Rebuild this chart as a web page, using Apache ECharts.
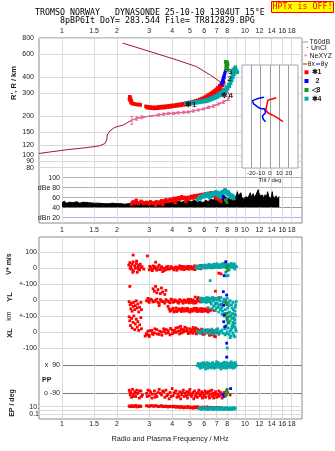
<!DOCTYPE html>
<html><head><meta charset="utf-8">
<script src="https://cdn.jsdelivr.net/npm/echarts@6/dist/echarts.min.js"></script>
<style>html,body{margin:0;padding:0;background:#fff}#c{width:335px;height:451px}</style>
</head><body><div id="c"></div><script>
// ---------- tick labels ----------
const freqTicks = [1,1.5,2,3,4,5,6,7,8,10,12,14,16,18];
const freqTicksMid = [1,1.5,2,3,4,5,6,7,8,9,10,12,14,16,18];
const freqGrid = [1,1.5,2,3,4,5,6,7,8,9,10,12,14,16,18];
const heightTicks = [80,90,100,120,150,200,300,400,600,800];
const heightLabelSlots = [74.2,80,90,100,120,150,200,300,400,600,800];
const heightTickText = {'74.2':''};
const dbTicks = [20,40,60,80,100];
const dbTickText = {20:'dBn 20',40:'40',60:'60',80:'dBe 80',100:'100'};
const vTicks = [0,100];
const ylTicks = [-100,0,100];
const ylTickText = {'-100':'+-100','0':'0','100':'+-100'};
const xlTicks = [-100,0];
const ppTicks = [-90,90];
const ppTickText = {'-90':'o -90','90':'x  90'};
const epTicks = [0.1,1,10];
const epTickText = {'0.1':'0.1','1':'','10':'10.'};
const tiltTicks = [-20,-10,0,10,20];

// ---------- height panel ----------
const profileLine = [[0.75,103],[1.06,110],[1.42,115],[1.61,118],[1.72,123],[1.757,131],[1.77,143],[1.83,154],[1.95,164],[2.17,171],[2.41,186],[2.56,192],[2.73,196],[3.37,204],[3.59,207],[3.82,210],[4.07,210],[4.33,212],[4.61,214],[4.91,215],[5.23,219],[5.57,223],[5.94,227],[6.32,234],[6.73,239],[7.17,248],[7.64,257],[8.13,269],[8.25,290],[8.13,300],[7.80,337],[7.33,368],[6.46,415],[5.46,481],[4.15,548],[2.15,732]];
const neF = [2.41,2.56,2.73,3.37,3.59,3.82,4.07,4.33,4.61,4.91,5.23,5.57,5.94,6.32,6.73,7.17,7.64,8.13];
const neH = [186,192,196,204,207,210,210,212,214,215,219,223,227,234,239,248,257,269];
const neErr = [13,6,5,4,4,4,4,4,4,4,4,4,4,5,5,5,6,6];
const traceRed = [[2.35,282],[2.37,274],[2.36,266],[2.38,258],[2.40,252],[2.44,250],[2.48,248],[2.53,247],[2.58,245],[2.63,246],[2.68,244],[2.40,262],[2.34,270],
[2.88,238],[2.92,233],[2.96,236],[3.00,231],[3.05,235],[3.10,230],[3.15,234],[3.20,229],[3.26,234],[3.32,230],[3.38,236],[3.44,231],[3.50,237],[3.56,232],[3.62,238],[3.68,233],[3.74,239],[3.80,235],[3.86,240],[3.92,236],[3.98,242],[4.05,238],[4.12,243],[4.19,239],[4.26,245],[4.33,241],[4.40,247],[4.48,242],[4.56,249],[4.64,244],[4.72,251],[4.80,246],[4.88,253],[4.96,248],[5.04,256],[5.12,250],[5.20,259],[5.28,253],[5.36,262],[5.44,256],[5.52,265],[5.60,259],[5.68,269],[5.76,262],[5.84,274],[5.92,266],[6.00,279],[6.08,270],[6.16,285],[6.24,275],[6.32,291],[6.40,281],[6.48,298],[6.56,287],[6.64,305],[6.72,294],[6.80,313],[6.88,302],[6.96,322],[7.04,311],[7.12,332],[7.20,320],[7.28,344],[7.36,331],[7.44,357],[7.52,345],[7.60,372],[7.66,360],[6.20,262],[6.60,280],[7.00,296],[7.40,318]];
const traceCyan = [[4.75,252],[4.85,249],[4.95,254],[5.05,250],[5.15,256],[5.25,252],[5.35,257],[5.45,253],[5.55,259],[5.65,255],[5.75,261],[5.85,257],[5.95,264],[6.05,259],[6.15,267],[6.25,262],[6.35,271],[6.45,266],[6.55,276],[6.65,270],[6.75,281],[6.85,275],[6.95,287],[7.05,280],[7.15,294],[7.25,287],[7.35,302],[7.45,294],[7.55,311],[7.65,302],[7.75,322],[7.85,312],[7.95,335],[8.05,325],[8.15,350],[8.22,340],[8.30,368],[8.36,358],[8.42,388],[8.48,378],[8.54,410],[8.60,400],[8.66,433],[8.72,422],[8.78,455],[8.82,445],[8.86,478],[8.88,468],[8.50,430],[8.65,460],[9.0,450],[9.1,435]];
const traceBlue = [[7.45,350],[7.5,362],[7.55,375],[7.6,388],[7.65,400],[7.7,412],[7.75,425],[7.8,438],[7.85,450],[7.6,370],[7.7,395]];
const traceGreen = [[7.85,525],[7.9,515],[7.95,505],[8.0,495],[7.9,485],[7.95,475],[8.0,465],[8.05,455],[7.9,460],[8.05,500],[8.0,520]];
const traceLabelPos = [[5.05,246],[8.0,287],[8.27,385],[8.3,436]];
const traceLabelText = ['\u27311','\u27314','2','3'];

// ---------- tilt inset ----------
const tiltRed = [[6.8,277],[2.3,271],[-2.3,265],[-3.0,251],[-3.7,236],[-4.4,223],[-2.3,212],[2.3,204],[6.8,196],[11.1,187],[13.9,181]];
const tiltBlue = [[-6.5,279],[-11.8,274],[-15.3,269],[-18.7,263],[-19.8,257],[-17.7,248],[-15.3,242],[-12.8,234],[-10.0,228],[-5.8,228],[-3.7,223],[-4.7,212],[-8.2,200],[-10.0,196],[-7.2,189],[-4.7,181]];

// ---------- amplitude panel (dB) ----------
const dbBlack = [[1.0,50],[1.03,53],[1.06,49],[1.1,51],[1.15,50],[1.2,52],[1.25,49],[1.3,51],[1.4,50],[1.5,49],[1.6,49],[1.7,48],[1.8,48],[1.9,49],[2.0,48],[2.1,48],[2.2,47],[2.3,48],[2.4,49],[2.5,48],[2.6,50],[2.7,49],[2.8,51],[2.9,50],[3.0,53],[3.1,50],[3.2,52],[3.3,49],[3.5,50],[3.7,51],[3.9,50],[4.1,52],[4.3,53],[4.5,51],[4.7,53],[4.9,54],[5.1,52],[5.3,55],[5.5,51],[5.7,53],[5.9,50],[6.1,55],[6.3,52],[6.5,58],[6.7,55],[6.9,60],[7.1,56],[7.3,62],[7.5,58],[7.7,64],[7.9,60],[8.1,62],[8.3,57],[8.5,60],[8.7,54],[8.9,58],[9.0,66],[9.1,72],[9.2,64],[9.3,68],[9.4,60],[9.5,70],[9.6,62],[9.7,65],[9.8,57],[9.9,60],[10.0,56],[10.1,62],[10.2,58],[10.3,66],[10.4,60],[10.5,63],[10.6,58],[10.7,70],[10.8,62],[10.9,66],[11.0,60],[11.1,68],[11.2,61],[11.3,64],[11.4,58],[11.5,66],[11.6,62],[11.7,70],[11.8,76],[11.9,70],[12.0,72],[12.1,64],[12.2,62],[12.3,67],[12.4,60],[12.5,65],[12.6,58],[12.8,62],[12.9,66],[13.0,58],[13.1,60],[13.2,66],[13.3,72],[13.4,68],[13.5,62],[13.6,66],[13.7,60],[13.8,64],[13.9,58],[14.0,66],[14.1,72],[14.2,64],[14.3,66],[14.4,60],[14.5,64],[14.6,58],[14.7,62],[14.8,64],[14.9,58],[15.0,62],[15.2,60],[15.4,62]];
const dbRed = [[2.4,47],[2.45,52],[2.5,49],[2.55,55],[2.6,50],[2.7,53],[2.8,48],[2.9,51],[3.0,47],[3.1,50],[3.2,48],[3.3,52],[3.4,49],[3.5,54],[3.6,51],[3.7,56],[3.8,52],[3.9,57],[4.0,54],[4.1,59],[4.2,55],[4.3,60],[4.4,57],[4.5,62],[4.6,58],[4.7,60],[4.8,56],[4.9,61],[5.0,58],[5.1,63],[5.2,59],[5.3,64],[5.4,60],[5.5,65],[5.6,61],[5.7,66],[5.8,62],[5.9,67],[6.0,63],[6.1,68],[6.2,64],[6.3,69],[6.4,65],[6.5,70],[6.6,66],[6.7,69],[6.8,63],[6.9,67],[7.0,58],[7.2,55],[7.4,52],[3.25,45],[3.55,46],[4.15,50],[4.75,52],
[2.42,50],[2.52,53],[2.62,48],[2.75,51],[2.85,50],[2.95,49],[3.05,52],[3.15,49],[3.25,51],[3.35,50],[3.45,52],[3.55,53],[3.65,54],[3.75,53],[3.85,55],[3.95,56],[4.05,57],[4.15,58],[4.25,57],[4.35,59],[4.45,60],[4.55,59],[4.65,61],[4.75,58],[4.85,60],[4.95,60],[5.05,61],[5.15,61],[5.25,62],[5.35,62],[5.45,63],[5.55,63],[5.65,64],[5.75,64],[5.85,65],[5.95,65],[6.05,66],[6.15,66],[6.25,67],[6.35,67],[6.45,68],[6.55,68],[6.65,67],[6.75,66],[6.85,65],[7.1,60],[7.3,56]];
const dbCyan = [[5.5,56],[5.6,60],[5.7,58],[5.8,63],[5.9,61],[6.0,66],[6.1,62],[6.2,68],[6.3,64],[6.4,60],[6.5,67],[6.6,63],[6.7,70],[6.8,66],[6.9,72],[7.0,68],[7.1,64],[7.2,70],[7.3,60],[7.4,66],[7.5,72],[7.6,68],[7.7,74],[7.8,76],[7.9,70],[8.0,66],[8.1,72],[8.2,68],[8.3,62],[8.4,66],[8.5,60],[8.6,64],[8.7,58],
[5.55,58],[5.65,62],[5.75,60],[5.85,64],[5.95,63],[6.05,64],[6.15,66],[6.25,65],[6.35,67],[6.45,66],[6.55,69],[6.65,68],[6.75,68],[6.85,70],[6.95,69],[7.05,71],[7.15,68],[7.25,66],[7.35,64],[7.45,69],[7.55,70],[7.65,72],[7.75,75],[7.85,73],[7.95,72],[8.05,70],[8.15,69],[8.25,66],[8.35,64],[8.45,63],[8.55,62],[8.65,60]];
const dbBlue = [[7.6,63],[7.7,60],[7.8,58]];
const dbGreen = [[7.8,55],[7.9,52],[8.0,50],[7.95,57]];

// ---------- V* (m/s) ----------
const vRed = [[2.32,20],[2.35,35],[2.38,10],[2.40,-5],[2.42,25],[2.45,40],[2.46,-15],[2.50,15],[2.52,0],[2.55,30],[2.58,-25],[2.60,10],[2.63,20],[2.66,-10],[2.70,5],[2.45,83],[2.93,77],[2.80,-5],[3.0,-10],[3.05,5],[3.1,-5],[3.15,15],[3.2,0],[3.3,-12],[3.35,8],[3.45,-5],[3.5,10],[3.6,0],[3.7,-8],[3.8,12],[3.9,-3],[4.0,5],[4.1,-10],[4.2,8],[4.3,0],[4.4,15],[4.5,-5],[4.6,5],[4.7,10],[4.8,-3],[4.9,12],[5.0,2],[5.1,8],[5.2,-5],[5.3,15],[5.4,5],[5.5,10],[5.6,0],[5.7,18],[5.8,8],[5.9,15],[6.0,3],[6.2,12],[6.4,20],[6.6,10],[6.8,25],[7.0,15],[7.2,-30],[7.3,18],[7.4,-35],[7.5,10],[3.25,38],[3.4,20],[3.55,-20],
[3.02,12],[3.12,-15],[3.22,10],[3.28,-3],[3.42,-8],[3.52,3],[3.62,-15],[3.72,8],[3.82,-5],[3.95,10],[4.05,-2],[4.15,3],[4.25,-12],[4.35,6],[4.45,-3],[4.55,12],[4.65,-8],[4.75,3],[4.85,10],[4.95,-6],[5.05,10],[5.15,-2],[5.25,6],[5.35,-8],[5.45,14],[5.55,3],[5.65,9],[5.75,-3],[5.85,12],[5.95,6],[6.1,10],[6.3,4],[6.5,15],[6.7,5],[6.9,12],[7.1,8],[2.36,0],[2.44,-25],[2.56,45],[2.62,-5],[2.68,25],[2.74,10]];
const vCyan = [[5.4,2],[5.5,8],[5.6,0],[5.7,10],[5.8,5],[5.9,12],[6.0,4],[6.1,15],[6.2,8],[6.3,18],[6.4,5],[6.5,12],[6.6,20],[6.7,8],[6.8,15],[6.9,25],[7.0,10],[7.1,18],[7.2,5],[7.3,22],[7.4,12],[7.5,28],[7.6,15],[7.7,20],[7.8,10],[7.9,25],[8.0,5],[8.1,18],[8.2,-10],[8.3,22],[8.4,8],[8.5,15],[8.6,25],[8.7,10],[8.8,-5],[8.1,-45],[8.4,30],[7.85,-25],[6.46,-77],[7.95,-48],
[5.45,12],[5.55,4],[5.65,15],[5.75,2],[5.85,18],[5.95,8],[6.05,20],[6.15,2],[6.25,12],[6.35,25],[6.45,10],[6.55,2],[6.65,14],[6.75,22],[6.85,5],[6.95,15],[7.05,28],[7.15,8],[7.25,15],[7.35,5],[7.45,20],[7.55,10],[7.65,30],[7.75,8],[7.85,18],[7.95,12],[8.05,25],[8.15,5],[8.25,15],[8.35,10],[8.45,20],[8.55,5],[8.65,12],[8.75,28],[8.85,15],[9.0,10]];
const vBlue = [[7.86,41],[7.7,-46]];
const vGreen = [[8.0,-15],[8.05,15],[7.95,5]];

// ---------- YL / XL (km) ----------
const ylRed = [[2.33,-10],[2.36,-30],[2.38,-55],[2.40,-20],[2.42,-70],[2.45,-40],[2.47,-15],[2.50,-60],[2.52,-35],[2.55,-5],[2.58,-50],[2.60,-25],[2.63,-75],[2.66,-45],[2.70,-15],[2.72,-60],
[3.15,70],[3.2,55],[3.25,85],[3.3,45],[3.35,65],[3.45,40],[3.5,75],[3.55,50],[3.65,35],[3.7,60],[2.35,85],
[2.9,-5],[2.95,10],[3.0,-15],[3.1,0],[3.2,-10],[3.3,5],[3.4,-20],[3.5,-5],[3.6,-12],[3.7,2],[3.8,-8],[3.9,-18],[4.0,0],[4.1,-10],[4.2,-5],[4.3,-15],[4.4,2],[4.5,-8],[4.6,-20],[4.7,-3],[4.8,-12],[4.9,5],[5.0,-5],[5.1,-15],[5.2,0],[5.3,-8],[5.4,-18],[5.5,2],[5.6,-5],[5.7,-12],[5.8,8],[6.0,-3],[6.2,10],[6.4,-5],[6.6,12],[5.35,18],[5.55,15],
[3.85,-55],[3.9,-70],[4.0,-60],[4.1,-75],[4.2,-50],[4.3,-65],[4.4,-58],[4.5,-72],[4.6,-62],[4.7,-55],[4.8,-68],[4.9,-60],[5.0,-75],[5.1,-58],[5.2,-66],[5.3,-52],[5.4,-70],[5.5,-60],[5.6,-65],[5.7,-55],[5.8,-72],[5.9,-62],[6.0,-58],[6.1,-68],[6.2,-60],[6.3,-75],[6.5,-65],
[3.8,-40],[3.4,-35],[6.9,55],[7.2,15],[7.4,-30],
[2.98,-8],[3.05,5],[3.15,-12],[3.25,-2],[3.35,-15],[3.45,3],[3.55,-10],[3.65,-20],[3.75,-5],[3.85,-12],[3.95,5],[4.05,-15],[4.15,0],[4.25,-8],[4.35,-20],[4.45,-3],[4.55,-12],[4.65,0],[4.75,-15],[4.85,-5],[4.95,-18],[5.05,3],[5.15,-8],[5.25,-20],[5.45,-8],[5.65,5],[5.75,-3],[5.9,-10],[6.1,5],[6.3,-8],
[3.95,-65],[4.05,-52],[4.15,-68],[4.25,-72],[4.35,-55],[4.45,-64],[4.55,-52],[4.65,-70],[4.75,-64],[4.85,-52],[4.95,-70],[5.05,-62],[5.15,-70],[5.25,-56],[5.35,-62],[5.45,-52],[5.55,-72],[5.65,-58],[5.75,-66],[5.85,-54],[5.95,-70],[6.05,-64],[6.15,-55],[6.25,-70],[6.4,-62],[6.6,-58],[6.8,-66]];
const ylCyan = [[5.7,5],[5.8,-5],[5.9,10],[6.0,-10],[6.1,2],[6.2,15],[6.3,-8],[6.4,5],[6.5,-15],[6.6,8],[6.7,-5],[6.8,12],[6.9,-20],[7.0,0],[7.1,10],[7.2,-30],[7.3,-5],[7.4,15],[7.5,-45],[7.6,-10],[7.7,5],[7.8,-60],[7.9,-20],[8.0,10],[8.1,-80],[8.2,-35],[8.3,-5],[8.4,-95],[8.5,-50],[8.6,-15],[8.7,-110],[8.8,-70],[8.9,-30],[6.6,-55],[6.9,-65],[7.2,-75],[7.5,-90],[7.7,-100],[8.0,-120],[8.3,-130],[8.6,-140],[8.8,-125],[7.0,-50],[7.4,-60],[7.9,-85],[8.2,-105],[8.5,-115],[8.75,-90],[6.3,-48],[6.75,-40],[8.1,-140],[8.9,-95],
[5.75,12],[5.85,-12],[5.95,0],[6.05,8],[6.15,-15],[6.25,5],[6.35,12],[6.45,-5],[6.55,-25],[6.65,15],[6.75,0],[6.85,-30],[6.95,8],[7.05,-20],[7.15,-45],[7.25,5],[7.35,-55],[7.45,-25],[7.55,-70],[7.65,-35],[7.75,-85],[7.85,-5],[7.95,-110],[8.05,-50],[8.15,-15],[8.25,-75],[8.35,-100],[8.45,-30],[8.55,-85],[8.65,-60],[8.75,-120],[8.85,-45],[8.95,-10],[8.8,-145]];
const ylBlue = [[7.62,52],[7.95,31],[7.66,-31]];
const ylGreen = [[7.85,-12],[7.95,-28]];
const xlRed = [[2.33,95],[2.35,70],[2.37,40],[2.40,85],[2.42,25],[2.45,60],[2.47,100],[2.50,15],[2.52,50],[2.55,80],[2.58,30],[2.60,65],[2.63,10],[2.66,45],[2.70,90],[2.72,20],
[2.9,-10],[2.95,5],[3.0,-20],[3.1,10],[3.2,-5],[3.3,15],[3.4,-15],[3.5,0],[3.6,20],[3.7,-8],[3.8,8],[3.9,-18],[4.0,12],[4.1,-3],[4.2,25],[4.3,5],[4.4,-12],[4.5,18],[4.6,0],[4.7,30],[4.8,8],[4.9,-10],[5.0,20],[5.1,3],[5.2,-8],[5.3,15],[5.4,25],[5.5,-5],[5.6,10],[5.7,0],[5.8,18],[5.9,-15],[6.0,5],[6.1,12],[6.2,-3],[6.3,8],[6.4,-20],[6.5,10],[6.6,-10],[6.7,2],[6.8,-25],[7.0,-5],[4.45,35],[3.15,-15],[2.85,-25],[3.0,-28],[6.9,-30],
[2.92,-18],[3.02,8],[3.12,-8],[3.22,20],[3.32,-12],[3.42,5],[3.52,-20],[3.62,3],[3.72,15],[3.82,-5],[3.92,22],[4.02,-10],[4.12,10],[4.22,-2],[4.32,28],[4.42,8],[4.52,-5],[4.62,15],[4.72,5],[4.82,22],[4.92,2],[5.02,-5],[5.12,14],[5.22,28],[5.32,2],[5.42,-12],[5.52,16],[5.62,-2],[5.72,10],[5.82,-8],[5.92,5],[6.02,-12],[6.15,0],[6.35,-6],[6.55,-18],[6.75,-8]];
const xlCyan = [[5.5,5],[5.7,-8],[5.9,10],[6.1,-5],[6.3,15],[6.5,0],[6.7,-12],[6.9,8],[7.1,20],[7.3,-5],[7.5,12],[7.7,30],[7.9,-10],[8.1,25],[8.3,5],[8.5,40],[8.7,-20],[8.9,15],[6.0,12],[6.6,18],[7.2,2],[7.8,-18],[8.4,-25],[8.8,30],[8.2,60],[8.6,45],[8.0,-100],
[5.6,0],[5.8,8],[6.0,-5],[6.2,5],[6.4,-10],[6.7,10],[6.9,-5],[7.0,15],[7.2,-15],[7.4,5],[7.6,-8],[7.8,20],[8.0,0],[8.2,-15],[8.4,15],[8.6,-5],[8.8,-30],[8.95,5],[8.5,25],[8.7,35],[8.3,-35],[7.9,40]];
const xlBlue = [[7.73,106],[7.66,64],[7.8,33],[7.95,-70]];
const xlGreen = [[7.95,115],[8.05,95],[8.0,75],[8.1,55]];

// ---------- PP / EP (deg) ----------
const ppRed = [[2.33,-70],[2.36,-100],[2.38,-85],[2.40,-115],[2.43,-65],[2.46,-95],[2.5,-80],[2.53,-110],[2.56,-70],[2.6,-90],[2.65,-120],[2.7,-75],[2.75,-100],[2.9,-90],[2.95,-70],[3.0,-105],[3.05,-85],[3.1,-120],[3.2,-75],[3.25,-95],[3.3,-110],[3.4,-65],[3.45,-90],[3.5,-100],[3.6,-80],[3.65,-115],[3.7,-70],[3.8,-95],[3.85,-125],[3.9,-85],[4.0,-60],[4.05,-105],[4.1,-90],[4.2,-75],[4.25,-115],[4.3,-95],[4.4,-80],[4.45,-125],[4.5,-100],[4.6,-70],[4.65,-110],[4.7,-90],[4.8,-80],[4.85,-120],[4.9,-100],[5.0,-65],[5.05,-95],[5.1,-110],[5.2,-85],[5.25,-125],[5.3,-75],[5.4,-100],[5.45,-90],[5.5,-115],[5.6,-70],[5.65,-95],[5.7,-105],[5.8,-80],[5.85,-120],[5.9,-90],[6.0,-100],[6.05,-75],[6.1,-115],[6.2,-90],[6.3,-80],[6.35,-105],[6.4,-120],[6.5,-95],[6.6,-70],[6.65,-110],[6.7,-90],[6.8,-100],[6.9,-80],[7.0,-115],[7.1,-95],[7.2,-75],[7.3,-105],[7.4,-90],[7.5,-120],[7.6,-100],[7.7,-85],[8.3,-100],
[2.35,-80],[2.45,-110],[2.55,-90],[2.65,-75],[2.72,-110],[2.92,-110],[3.02,-75],[3.12,-95],[3.22,-115],[3.35,-85],[3.55,-75],[3.75,-105],[3.95,-110],[4.15,-80],[4.35,-110],[4.55,-85],[4.75,-105],[4.95,-80],[5.15,-95],[5.35,-110],[5.55,-85],[5.75,-95],[5.95,-110],[6.15,-85],[6.45,-75],[6.75,-120],[6.95,-95],[7.15,-110],[7.35,-85],[7.55,-95]];
const ppCyan = [[5.5,85],[5.6,95],[5.7,70],[5.8,100],[5.9,80],[6.0,90],[6.1,65],[6.2,105],[6.3,85],[6.4,75],[6.5,95],[6.6,80],[6.7,100],[6.8,70],[6.9,90],[7.0,110],[7.1,85],[7.2,75],[7.3,95],[7.4,65],[7.5,100],[7.6,80],[7.7,108],[7.8,90],[7.9,70],[8.0,100],[8.1,85],[8.2,95],[8.3,75],[8.4,110],[8.5,88],[8.6,70],[8.7,98],[8.8,80],[8.9,92],
[5.55,100],[5.65,80],[5.75,95],[5.85,75],[5.95,105],[6.05,80],[6.15,95],[6.25,70],[6.35,100],[6.45,90],[6.55,72],[6.65,105],[6.75,85],[6.85,95],[6.95,75],[7.05,95],[7.15,105],[7.25,90],[7.35,78],[7.45,98],[7.55,88],[7.65,72],[7.75,95],[7.85,80],[7.95,105],[8.05,75],[8.15,100],[8.25,80],[8.35,92],[8.45,78],[8.55,102],[8.65,90],[8.75,75],[8.85,105],[8.95,85]];
const ppBlue = [[7.6,-100],[7.7,-110],[8.35,-60],[7.95,140]];
const ppGreen = [[7.9,-75],[7.95,-95],[8.0,-65],[8.05,-85],[7.85,-105]];
const epRed = [[2.33,15],[2.38,10],[2.42,18],[2.47,12],[2.52,20],[2.57,9],[2.62,14],[2.7,11],[2.9,18],[3.0,12],[3.1,20],[3.2,14],[3.3,16],[3.4,11],[3.5,18],[3.6,10],[3.7,15],[3.8,8],[3.9,13],[4.0,9],[4.1,14],[4.2,7],[4.3,12],[4.4,6],[4.5,10],[4.6,5],[4.7,9],[4.8,6],[4.9,11],[5.0,5],[5.1,8],[5.2,4],[5.3,9],[5.4,6],[5.5,10],[5.6,5],[5.7,7],[5.8,4],[5.9,8],[6.0,5],[6.2,9],[6.4,5],[6.6,7],[6.8,4],[7.0,6],[7.2,5],
[2.35,12],[2.4,16],[2.45,11],[2.5,14],[2.55,17],[2.6,10],[2.65,13],[2.68,16],[2.95,15],[3.05,17],[3.15,13],[3.25,18],[3.35,12],[3.45,14],[3.55,13],[3.65,12],[3.75,11],[3.85,12],[3.95,10],[4.05,11],[4.15,9],[4.25,10],[4.35,8],[4.45,9],[4.55,8],[4.65,7],[4.75,7],[4.85,8],[4.95,7],[5.05,6],[5.15,6],[5.25,7],[5.35,5],[5.45,7],[5.55,6],[5.65,6],[5.75,5],[5.85,6],[5.95,5],[6.1,6],[6.3,6],[6.5,6],[6.7,5],[6.9,5],[7.1,5],[7.3,5],[7.4,4]];
const epCyan = [[5.6,3],[5.7,5],[5.8,2],[5.9,4],[6.0,2.5],[6.1,5],[6.2,3],[6.3,1.8],[6.4,4],[6.5,2.5],[6.6,5],[6.7,3],[6.8,2],[6.9,4],[7.0,3],[7.1,5],[7.2,2],[7.3,4],[7.4,2.5],[7.5,5],[7.6,3],[7.7,1.8],[7.8,4],[7.9,2.5],[8.0,5],[8.1,3],[8.2,2],[8.3,4.5],[8.4,3],[8.5,2],[8.6,4],[8.7,3],[8.8,5],
[5.65,4],[5.75,3],[5.85,5],[5.95,3],[6.05,4],[6.15,2.2],[6.25,4],[6.35,3],[6.45,5],[6.55,3.5],[6.65,2],[6.75,4],[6.85,3],[6.95,5],[7.05,2],[7.15,3.5],[7.25,4.5],[7.35,3],[7.45,4],[7.55,2],[7.65,4],[7.75,3],[7.85,5],[7.95,3],[8.05,2.5],[8.15,4],[8.25,3],[8.35,2.2],[8.45,4],[8.55,3],[8.65,5],[8.75,2.5],[8.85,3.5]];

// ---------- styles ----------
const FONT = '"Liberation Sans", Arial, sans-serif';
const MONO = '"DejaVu Sans Mono", "Liberation Mono", monospace';
const C = {red:'#ff0000', blue:'#0000ff', green:'#1f8f1f', cyan:'#00a8a8', prof:'#a3143f', pink:'#e8689a', grid:'#dadada', frame:'#8a8a8a', txt:'#1a1a1a'};
const fmt = v => String(+(+v).toPrecision(3));
const lab = {fontSize:7, color:C.txt, fontFamily:FONT, showMinLabel:true, showMaxLabel:true, hideOverlap:false};

function hx(gi, min, extra) {
  return Object.assign({type:'log', logBase:10, gridIndex:gi, min:min, max:20.5,
    axisLine:{show:false}, axisTick:{show:false}, axisLabel:{show:false}, splitLine:{show:false}}, extra||{});
}
function vy(gi, type, min, max, ticks, textMap, margin, lineColor, labelSlots) {
  return {type:type, gridIndex:gi, min:min, max:max, axisLine:{show:false},
    axisTick:{show:false, customValues:ticks},
    axisLabel:{show:true, customValues:labelSlots||ticks, margin:margin, formatter:v => textMap ? (textMap[fmt(v)] !== undefined ? textMap[fmt(v)] : fmt(v)) : fmt(v), ...lab},
    splitLine:{show:true, lineStyle:{color:lineColor||C.grid, width:1}}};
}
const hideY = gi => ({type:'value', gridIndex:gi, min:0, max:1, show:false});

const grids = [
  {left:39, top:38, width:263, height:185, show:true, borderColor:C.frame, borderWidth:1, backgroundColor:'#fff'},
  {left:39, top:38, width:263, height:134},
  {left:62, top:172, width:240, height:51},
  {left:242, top:65, width:56, height:103, show:true, borderColor:'#a4a4bc', borderWidth:1, backgroundColor:'#fff', z:10},
  {left:39, top:237, width:263, height:182, show:true, borderColor:C.frame, borderWidth:1, backgroundColor:'#fff'},
  {left:39, top:237, width:263, height:48},
  {left:39, top:276, width:263, height:48},
  {left:39, top:308, width:263, height:51},
  {left:62, top:350.85, width:240, height:49.55},
  {left:39, top:400.24, width:263, height:18.96}
];

const xAxes = [
  hx(0, 0.75, {position:'top', axisTick:{show:false, customValues:freqGrid}, axisLabel:{show:true, customValues:freqTicks, margin:3, formatter:fmt, ...lab}, splitLine:{show:true, lineStyle:{color:C.grid}}}),
  hx(0, 0.75, {position:'bottom', axisLabel:{show:true, customValues:freqTicksMid, margin:4, formatter:fmt, ...lab}}),
  hx(1, 0.75), hx(2, 1.0),
  {type:'value', gridIndex:3, min:-30, max:30, z:11, axisLine:{show:false}, axisTick:{show:false, customValues:tiltTicks},
    axisLabel:{show:true, customValues:tiltTicks, margin:2, fontSize:6, color:C.txt, fontFamily:FONT, showMinLabel:true, showMaxLabel:true}, splitLine:{show:true, lineStyle:{color:'#9c9c9c'}},
    name:'Tilt / deg', nameLocation:'middle', nameGap:9, nameTextStyle:{fontSize:6, color:C.txt, fontFamily:FONT}},
  hx(4, 0.75, {position:'bottom', axisTick:{show:false, customValues:freqGrid}, axisLabel:{show:true, customValues:freqTicks, margin:2, formatter:fmt, ...lab}, splitLine:{show:true, lineStyle:{color:C.grid}}}),
  hx(5, 0.75), hx(6, 0.75), hx(7, 0.75), hx(8, 1.0), hx(9, 0.75)
];
const yAxes = [
  hideY(0),
  vy(1, 'log', 74.1, 801, heightTicks, heightTickText, 5, null, heightLabelSlots),
  vy(2, 'value', 9.4, 111.4, dbTicks, dbTickText, 2, ['#b4b4e4','#9a9a9a','#b4b4b4','#b4b4b4','#b4b4b4']),
  {type:'log', gridIndex:3, min:79.6, max:495, show:false},
  hideY(4),
  vy(5, 'value', -104.4, 195.6, vTicks, null, 2),
  vy(6, 'value', -150, 150, ylTicks, ylTickText, 2),
  vy(7, 'value', -168.75, 150, xlTicks, null, 2),
  vy(8, 'value', -135, 180, ppTicks, ppTickText, 2, '#7c7c7c'),
  vy(9, 'log', 0.005, 500, epTicks, epTickText, 0)
];

function sc(xi, yi, data, color, size, z) {
  return {type:'scatter', xAxisIndex:xi, yAxisIndex:yi, data:data, symbol:'rect', symbolSize:size||2.8,
    itemStyle:{color:color, opacity:1}, silent:true, animation:false, z:z||3};
}

const series = [
  {type:'line', xAxisIndex:2, yAxisIndex:1, data:profileLine, symbol:'none', lineStyle:{color:C.prof, width:1}, silent:true, animation:false, z:2},
  {type:'line', xAxisIndex:2, yAxisIndex:1, data:neF.map((f,i)=>[f,neH[i]]), symbol:'none', lineStyle:{color:C.pink, width:1}, silent:true, animation:false, z:4},
  {type:'custom', xAxisIndex:2, yAxisIndex:1, silent:true, animation:false, z:4,
    data:neF.map((f,i)=>[f, neH[i]-neErr[i], neH[i]+neErr[i]]), encode:{x:0, y:[1,2]},
    renderItem:(params, api) => {
      const a = api.coord([api.value(0), api.value(1)]), b = api.coord([api.value(0), api.value(2)]);
      const st = {stroke:C.pink, lineWidth:1};
      return {type:'group', children:[
        {type:'line', shape:{x1:a[0], y1:a[1], x2:b[0], y2:b[1]}, style:st},
        {type:'line', shape:{x1:a[0]-1.5, y1:a[1], x2:a[0]+1.5, y2:a[1]}, style:st},
        {type:'line', shape:{x1:b[0]-1.5, y1:b[1], x2:b[0]+1.5, y2:b[1]}, style:st}]};
    }},
  sc(2,1,traceRed,C.red,3.5), sc(2,1,traceCyan,C.cyan,3.5), sc(2,1,traceBlue,C.blue,3), sc(2,1,traceGreen,C.green,3.5),
  {type:'scatter', xAxisIndex:2, yAxisIndex:1, symbolSize:1, itemStyle:{color:'rgba(0,0,0,0)'}, silent:true, animation:false, z:6,
    data:traceLabelPos.map((p,i)=>({value:p, label:{formatter:traceLabelText[i]}})),
    label:{show:true, position:'inside', color:'#000', fontSize:8, fontWeight:'bold', fontFamily:FONT}},
  {type:'line', xAxisIndex:4, yAxisIndex:3, data:tiltRed, symbol:'none', lineStyle:{color:C.red, width:1.5}, silent:true, animation:false, z:12},
  {type:'line', xAxisIndex:4, yAxisIndex:3, data:tiltBlue, symbol:'none', lineStyle:{color:C.blue, width:1.5}, silent:true, animation:false, z:12},
  {type:'line', xAxisIndex:3, yAxisIndex:2, data:dbBlack, symbol:'none', lineStyle:{color:'#000', width:1}, areaStyle:{color:'#000', opacity:1, origin:41}, silent:true, animation:false, z:2},
  sc(3,2,dbRed,C.red,3.2), sc(3,2,dbCyan,C.cyan,3.2), sc(3,2,dbBlue,C.blue,2.5), sc(3,2,dbGreen,C.green,2.5),
  sc(6,5,vRed,C.red), sc(6,5,vCyan,C.cyan), sc(6,5,vBlue,C.blue), sc(6,5,vGreen,C.green),
  sc(7,6,ylRed,C.red), sc(7,6,ylCyan,C.cyan), sc(7,6,ylBlue,C.blue), sc(7,6,ylGreen,C.green),
  sc(8,7,xlRed,C.red), sc(8,7,xlCyan,C.cyan), sc(8,7,xlBlue,C.blue), sc(8,7,xlGreen,C.green),
  sc(9,8,ppRed,C.red), sc(9,8,ppCyan,C.cyan), sc(9,8,ppBlue,C.blue), sc(9,8,ppGreen,C.green),
  sc(10,9,epRed,C.red), sc(10,9,epCyan,C.cyan)
];

function txt(x, y, s, o) {
  return Object.assign({type:'text', x:x, y:y, silent:true, z:20,
    style:Object.assign({text:s, fill:C.txt, font:'7px '+FONT, textAlign:'left', textVerticalAlign:'middle'}, (o&&o.style)||{})},
    o ? {rotation:o.rotation||0} : {});
}
function sq(x, y, color) { return {type:'rect', shape:{x:x-2, y:y-2, width:4, height:4}, style:{fill:color}, silent:true, z:20}; }
function seg(x1, y1, x2, y2, color) { return {type:'line', shape:{x1:x1, y1:y1, x2:x2, y2:y2}, style:{stroke:color, lineWidth:1}, silent:true, z:20}; }

const graphic = [
  txt(35, 12.5, 'TROMSO NORWAY   DYNASONDE 25-10-10 1304UT 15\u00b0E', {style:{font:'8.3px '+MONO, fill:'#000'}}),
  txt(60, 20.5, '8pBP6It DoY= 283.544 File= TR812829.BPG', {style:{font:'8.3px '+MONO, fill:'#000'}}),
  {type:'rect', shape:{x:271.5, y:1.5, width:62, height:11}, style:{fill:'#ffff00', stroke:'#ff0000', lineWidth:1}, silent:true, z:19},
  txt(302.5, 7.3, 'HPTx is OFF!', {style:{font:'8.3px '+MONO, fill:'#ff0000', textAlign:'center'}}),
  seg(303, 42, 308, 42, '#999'), txt(309.5, 42, 'T60dB'),
  txt(306, 48, '\u00b7', {style:{fill:'#000'}}), txt(311, 48.5, 'UnCl'),
  txt(305.5, 55.7, '+', {style:{fill:C.pink, textAlign:'center'}}), txt(309.5, 55.7, 'NeXYZ'),
  seg(303, 64, 307, 64, C.red), txt(307.5, 64, '\u03b8x'), seg(316, 64, 320, 64, C.blue), txt(320.5, 64, '\u03b8y'),
  sq(306.5, 72.3, C.red), txt(311.5, 72.3, '\u27311', {style:{font:'bold 7px '+FONT}}),
  sq(306.5, 81, C.blue), txt(315.5, 81, '2', {style:{font:'bold 7px '+FONT}}),
  sq(306.5, 90, C.green), txt(311.5, 90, '\u25c13', {style:{font:'bold 7px '+FONT}}),
  sq(306.5, 98.7, C.cyan), txt(311.5, 98.7, '\u27314', {style:{font:'bold 7px '+FONT}}),
  txt(13.5, 83, "R', R / km", {rotation:Math.PI/2, style:{font:'bold 7.5px '+FONT, textAlign:'center'}}),
  txt(9.5, 264, 'V* m/s', {rotation:Math.PI/2, style:{font:'bold 7px '+FONT, textAlign:'center'}}),
  txt(9.5, 297, 'YL', {rotation:Math.PI/2, style:{font:'bold 7.5px '+FONT, textAlign:'center'}}),
  txt(9.5, 316, 'km', {rotation:Math.PI/2, style:{font:'7px '+FONT, textAlign:'center'}}),
  txt(9.5, 333, 'XL', {rotation:Math.PI/2, style:{font:'bold 7.5px '+FONT, textAlign:'center'}}),
  txt(42, 380, 'PP', {style:{font:'bold 7px '+FONT}}),
  txt(12.5, 403, 'EP / deg', {rotation:Math.PI/2, style:{font:'bold 7px '+FONT, textAlign:'center'}}),
  txt(170, 439, 'Radio and Plasma Frequency / MHz', {style:{font:'7.3px '+FONT, textAlign:'center'}})
];

const chart = echarts.init(document.getElementById('c'), null, {renderer:'canvas', width:335, height:451});
chart.setOption({animation:false, backgroundColor:'#fff', grid:grids, xAxis:xAxes, yAxis:yAxes, series:series, graphic:graphic});
</script></body></html>
